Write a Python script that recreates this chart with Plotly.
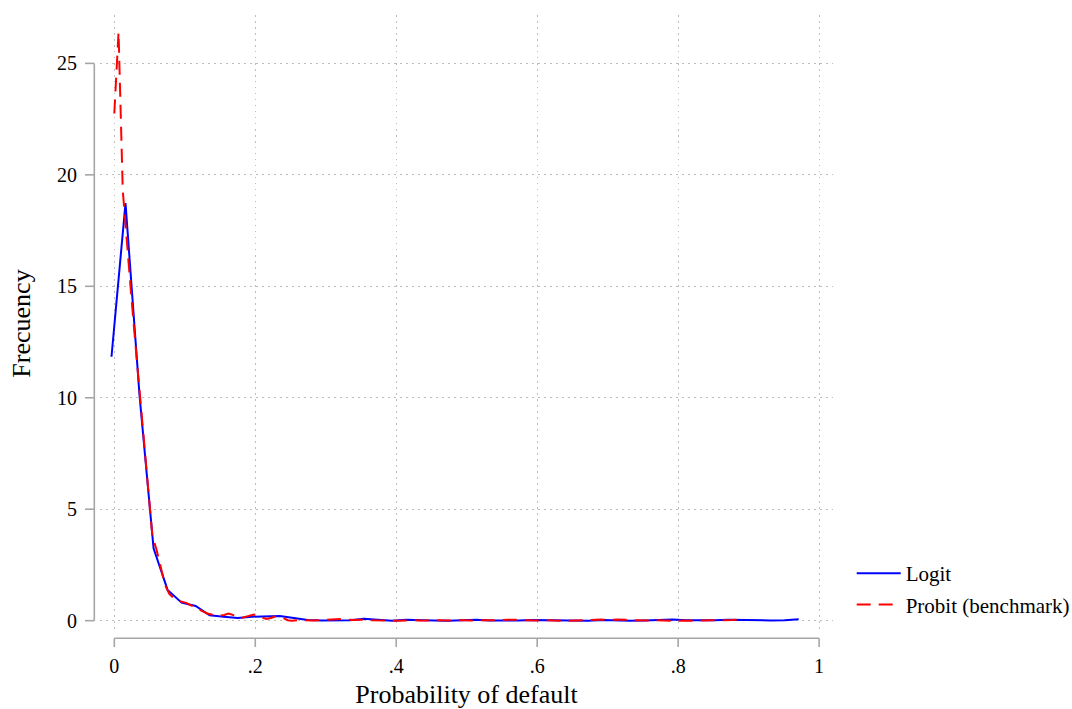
import numpy as np
import plotly.graph_objects as go

# ---------------- data ----------------
logit_x_start, logit_x_end = -0.004, 0.971
logit_y = [11.84, 18.73, 10.1, 3.25, 1.38, 0.81, 0.66, 0.24, 0.18, 0.12,
           0.18, 0.19, 0.21, 0.12, 0.03, 0.01, 0.0, 0.02, 0.09, 0.03,
           0.0, 0.04, 0.04, 0.01, 0.0, 0.02, 0.04, 0.01, 0.0, 0.01,
           0.03, 0.02, 0.0, 0.01, 0.0, 0.03, 0.01, 0.0, 0.01, 0.02,
           0.05, 0.02, 0.01, 0.02, 0.04, 0.02, 0.01, 0.01, 0.02, 0.06]

probit_x_start, probit_x_end = 0.0, 0.894
probit_y = [22.75, 26.4, 19.3, 16.8, 14.6, 12.4, 10.2, 8.05, 5.9, 3.8,
            3.17, 2.4, 1.6, 1.2, 1.02, 0.9, 0.84, 0.8, 0.7, 0.6,
            0.5, 0.41, 0.32, 0.28, 0.26, 0.23, 0.26, 0.32, 0.26, 0.17,
            0.12, 0.17, 0.23, 0.28, 0.19, 0.12, 0.08, 0.12, 0.19, 0.21,
            0.12, 0.02, 0.0, 0.02, 0.03, 0.02, 0.0, 0.01, 0.02, 0.03,
            0.05, 0.07, 0.09, 0.10, 0.08, 0.05, 0.03, 0.03, 0.04, 0.05,
            0.04, 0.02, 0.01, 0.0, 0.0, 0.01, 0.0, 0.0, 0.01, 0.02,
            0.03, 0.02, 0.01, 0.0, 0.0, 0.01, 0.02, 0.01, 0.0, 0.0,
            0.01, 0.02, 0.03, 0.02, 0.01, 0.01, 0.02, 0.01, 0.0, 0.0,
            0.01, 0.02, 0.03, 0.04, 0.05, 0.04, 0.02, 0.01, 0.0, 0.0,
            0.01, 0.02, 0.01, 0.0, 0.0, 0.01, 0.0, 0.0, 0.01, 0.02,
            0.03, 0.03, 0.02, 0.03, 0.04, 0.05, 0.04, 0.03, 0.04, 0.05,
            0.06, 0.04, 0.02, 0.01, 0.0, 0.0, 0.01, 0.02, 0.01, 0.0,
            0.0, 0.01, 0.0, 0.0, 0.01, 0.02, 0.01, 0.0, 0.0, 0.01,
            0.02, 0.01, 0.0, 0.0, 0.01, 0.02, 0.03, 0.04, 0.05, 0.06]

x_ticks = [0, 0.2, 0.4, 0.6, 0.8, 1]
x_tick_labels = ["0", ".2", ".4", ".6", ".8", "1"]
y_ticks = [0, 5, 10, 15, 20, 25]
y_tick_labels = ["0", "5", "10", "15", "20", "25"]

logit_x = np.linspace(logit_x_start, logit_x_end, len(logit_y))
probit_x = np.linspace(probit_x_start, probit_x_end, len(probit_y))

# ---------------- figure ----------------
FONT = "Liberation Serif, Times New Roman, serif"
AXIS_COLOR = "#A6A6A6"
GRID_COLOR = "#BDBDBD"

fig = go.Figure()
fig.add_trace(go.Scatter(x=logit_x, y=logit_y, mode="lines", name="Logit",
                         legendgroup="a",
                         line=dict(color="#0000FF", width=2)))
fig.add_trace(go.Scatter(x=probit_x, y=probit_y, mode="lines",
                         name="Probit (benchmark)", legendgroup="b",
                         line=dict(color="#FF0000", width=2, dash="14px,8px")))

L, R, T, B = 100, 239, 15, 77
W, H = 1072, 709
pw, ph = W - L - R, H - T - B

# offset axis lines (Stata style)
ax_off_x = -5.7 / pw
ax_off_y = -6.3 / ph
tick_len_x = 9.3 / pw
tick_len_y = 8.7 / ph

shapes = []
shapes.append(dict(type="line", xref="paper", yref="y", x0=ax_off_x, x1=ax_off_x,
                   y0=y_ticks[0], y1=y_ticks[-1], line=dict(color=AXIS_COLOR, width=1.6)))
for v in y_ticks:
    shapes.append(dict(type="line", xref="paper", yref="y", x0=ax_off_x - tick_len_x,
                       x1=ax_off_x, y0=v, y1=v, line=dict(color=AXIS_COLOR, width=1.6)))
shapes.append(dict(type="line", xref="x", yref="paper", x0=x_ticks[0], x1=x_ticks[-1],
                   y0=ax_off_y, y1=ax_off_y, line=dict(color=AXIS_COLOR, width=1.6)))
for v in x_ticks:
    shapes.append(dict(type="line", xref="x", yref="paper", x0=v, x1=v,
                       y0=ax_off_y, y1=ax_off_y - tick_len_y,
                       line=dict(color=AXIS_COLOR, width=1.6)))

fig.update_layout(
    width=W, height=H,
    margin=dict(l=L, r=R, t=T, b=B, pad=0, autoexpand=False),
    paper_bgcolor="white", plot_bgcolor="white",
    font=dict(family=FONT, color="black", size=20),
    shapes=shapes,
    showlegend=True,
    legend=dict(x=1.0255, xanchor="left", y=0.128, yanchor="top",
                font=dict(size=21, family=FONT), tracegroupgap=1,
                traceorder="grouped", bgcolor="rgba(0,0,0,0)", itemwidth=44),
    xaxis=dict(range=[-0.0203, 1.0197], tickvals=x_ticks, ticktext=x_tick_labels,
               showgrid=True, gridcolor=GRID_COLOR, griddash="1.5px,4.5px", gridwidth=1,
               zeroline=False, showline=False, ticks="outside", ticklen=16,
               tickcolor="rgba(0,0,0,0)", tickfont=dict(size=20), automargin=False,
               title=dict(text="Probability of default", font=dict(size=26), standoff=11)),
    yaxis=dict(range=[-0.507, 27.17], tickvals=y_ticks, ticktext=y_tick_labels,
               showgrid=True, gridcolor=GRID_COLOR, griddash="1.5px,4.5px", gridwidth=1,
               zeroline=False, showline=False, ticks="outside", ticklen=18,
               tickcolor="rgba(0,0,0,0)", tickfont=dict(size=20), automargin=False,
               title=dict(text="Frecuency", font=dict(size=26), standoff=18)),
)

fig.write_html("out.html")
